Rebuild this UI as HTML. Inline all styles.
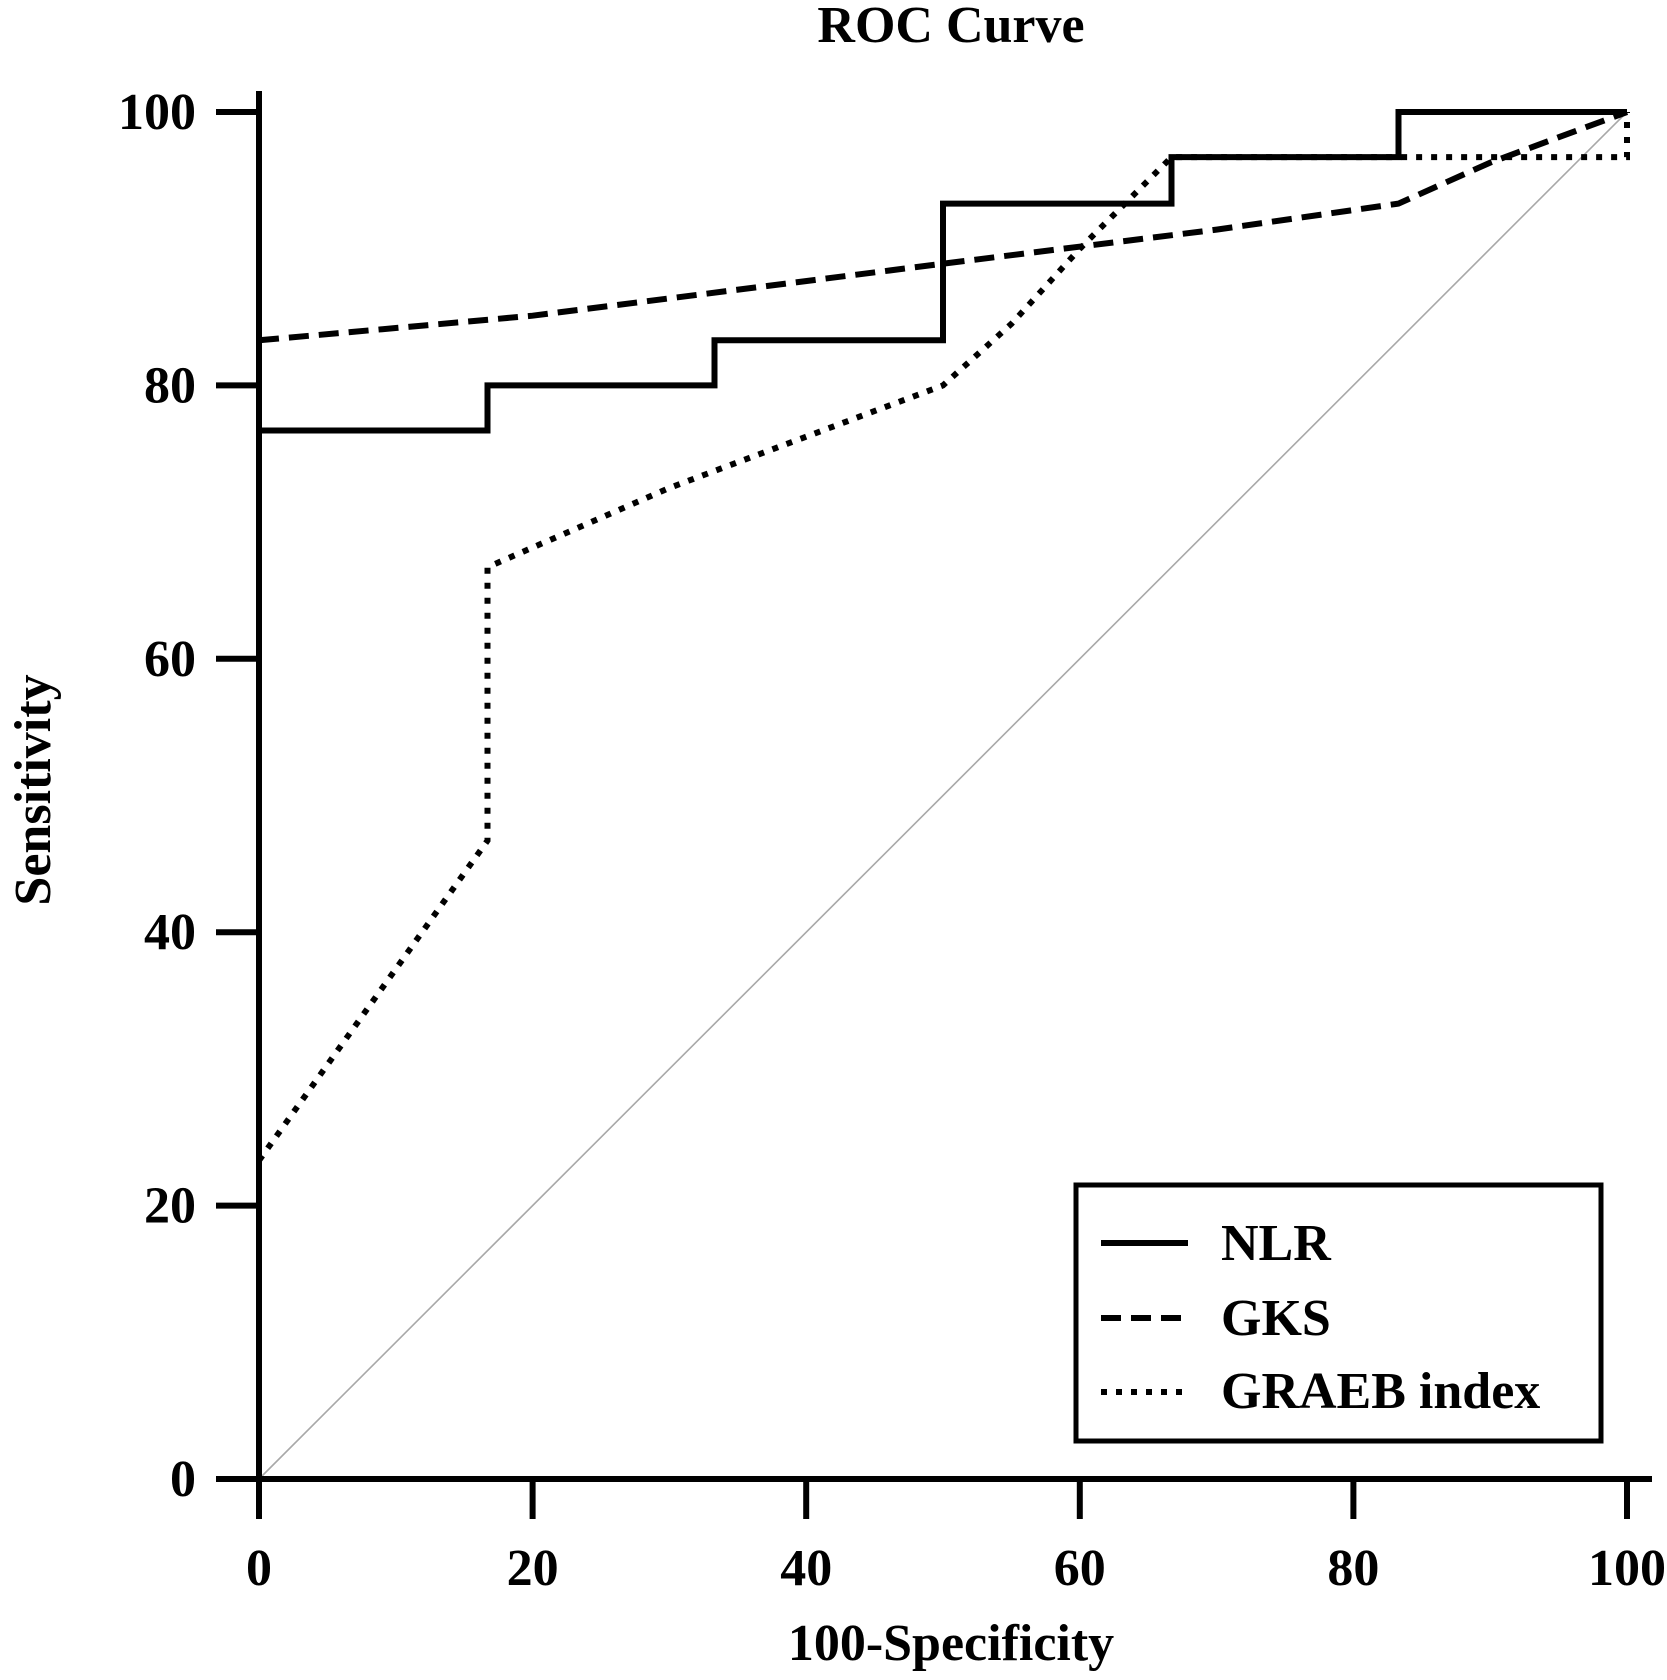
<!DOCTYPE html>
<html>
<head>
<meta charset="utf-8">
<style>
html,body{margin:0;padding:0;background:#fff;}
svg{display:block;}
text{font-family:"Liberation Serif",serif;font-weight:bold;fill:#000;}
</style>
</head>
<body>
<svg id="chart" width="1667" height="1680" viewBox="0 0 1667 1680" xmlns="http://www.w3.org/2000/svg">
  <rect x="0" y="0" width="1667" height="1680" fill="#fff"/>
  <text x="951" y="42" font-size="52" text-anchor="middle">ROC Curve</text>
  <text transform="translate(50,790) rotate(-90)" font-size="52" text-anchor="middle">Sensitivity</text>
  <text x="951" y="1660" font-size="52" text-anchor="middle">100-Specificity</text>
  <g id="plot"></g>
  <g id="legend">
    <rect x="1076" y="1185" width="525" height="256" fill="#fff" stroke="#000" stroke-width="5"/>
    <line x1="1101" y1="1243" x2="1188" y2="1243" stroke="#000" stroke-width="6"/>
    <text x="1221" y="1260" font-size="52">NLR</text>
    <line x1="1101" y1="1318" x2="1188" y2="1318" stroke="#000" stroke-width="6" stroke-dasharray="20 10"/>
    <text x="1221" y="1335" font-size="52">GKS</text>
    <line x1="1101" y1="1392" x2="1188" y2="1392" stroke="#000" stroke-width="6" stroke-dasharray="6 9"/>
    <text x="1221" y="1408" font-size="52">GRAEB index</text>
  </g>
</svg>
<script>
const xTicks = [0, 20, 40, 60, 80, 100];
const yTicks = [0, 20, 40, 60, 80, 100];
const nlrX = [0, 0, 16.7, 16.7, 33.3, 33.3, 50, 50, 66.7, 66.7, 83.3, 83.3, 100];
const nlrY = [0, 76.7, 76.7, 80, 80, 83.3, 83.3, 93.3, 93.3, 96.7, 96.7, 100, 100];
const gksX = [0, 20, 50, 70, 83.3, 90, 100];
const gksY = [83.3, 85.1, 88.9, 91.4, 93.3, 96.3, 100];
const graebX = [0, 16.7, 16.7, 30, 50, 55, 60, 66.7, 100, 100];
const graebY = [23.3, 46.7, 66.7, 72.5, 80, 84.5, 90, 96.7, 96.7, 100];
const diagX = [0, 100];
const diagY = [0, 100];

const X0 = 259, X1 = 1627, Y0 = 1479, Y1 = 112;
function sx(v){ return X0 + (X1 - X0) * v / 100; }
function sy(v){ return Y0 - (Y0 - Y1) * v / 100; }
const NS = "http://www.w3.org/2000/svg";
const plot = document.getElementById('plot');

function mk(tag, attrs){
  const el = document.createElementNS(NS, tag);
  for (const k in attrs) el.setAttribute(k, attrs[k]);
  return el;
}
function pathFrom(xs, ys){
  return xs.map((x,i)=> (i?'L':'M') + sx(x).toFixed(1) + ' ' + sy(ys[i]).toFixed(1)).join(' ');
}

// diagonal reference
const diag = mk('path', {d: pathFrom(diagX, diagY), fill:'none', stroke:'#a8a8a8', 'stroke-width':'1.6'});


plot.appendChild(diag);

// axes
const yAxis = mk('line', {x1:X0, y1:91, x2:X0, y2:Y0+40, stroke:'#000', 'stroke-width':'6'});


plot.appendChild(yAxis);
const xAxis = mk('line', {x1:X0-43, y1:Y0, x2:1652, y2:Y0, stroke:'#000', 'stroke-width':'6'});


plot.appendChild(xAxis);

xTicks.forEach(v=>{
  const t = mk('line', {x1:sx(v), y1:Y0, x2:sx(v), y2:Y0+40, stroke:'#000', 'stroke-width':'6'});
  
  
  plot.appendChild(t);
  const l = mk('text', {x:sx(v), y:1585, 'font-size':'52', 'text-anchor':'middle'});
  l.textContent = String(v);
  
  
  plot.appendChild(l);
});
yTicks.forEach(v=>{
  const t = mk('line', {x1:X0-43, y1:sy(v), x2:X0, y2:sy(v), stroke:'#000', 'stroke-width':'6'});
  
  
  plot.appendChild(t);
  const l = mk('text', {x:196, y:sy(v)+17, 'font-size':'52', 'text-anchor':'end'});
  l.textContent = String(v);
  
  
  plot.appendChild(l);
});

const gks = mk('path', {d: pathFrom(gksX, gksY), fill:'none', stroke:'#000', 'stroke-width':'6', 'stroke-dasharray':'20 10'});


plot.appendChild(gks);

const graeb = mk('path', {d: pathFrom(graebX, graebY), fill:'none', stroke:'#000', 'stroke-width':'6', 'stroke-dasharray':'6 9'});


plot.appendChild(graeb);

const nlr = mk('path', {d: pathFrom(nlrX, nlrY), fill:'none', stroke:'#000', 'stroke-width':'6', 'stroke-linejoin':'miter'});


plot.appendChild(nlr);
</script>
</body>
</html>
